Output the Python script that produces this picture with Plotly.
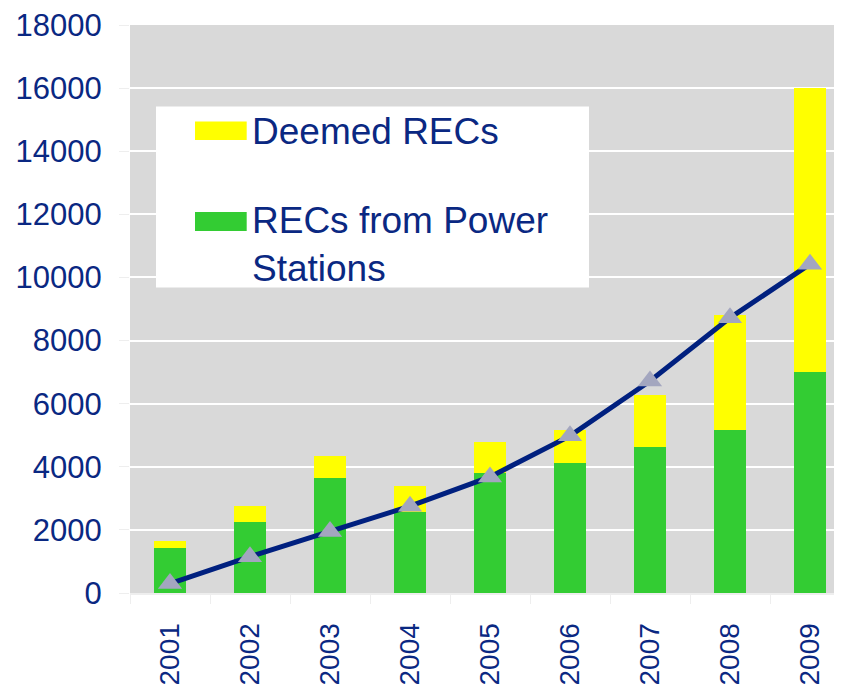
import plotly.graph_objects as go

years = ["2001", "2002", "2003", "2004", "2005", "2006", "2007", "2008", "2009"]
recs_power = [1420, 2240, 3630, 2555, 3795, 4130, 4640, 5160, 7000]
recs_total = [1640, 2750, 4340, 3385, 4800, 5160, 6280, 8810, 16000]
deemed = [t - p for t, p in zip(recs_total, recs_power)]
target = [300, 1150, 1950, 2750, 3680, 4980, 6720, 8720, 10420]
y_ticks = [0, 2000, 4000, 6000, 8000, 10000, 12000, 14000, 16000, 18000]

NAVY = "#0A2882"
FONT = "Arial, Liberation Sans, sans-serif"

fig = go.Figure()
fig.add_trace(go.Bar(x=years, y=recs_power, name="RECs from Power Stations",
                     marker=dict(color="#33CC33", line=dict(width=0)), width=0.4))
fig.add_trace(go.Bar(x=years, y=deemed, name="Deemed RECs",
                     marker=dict(color="#FFFF00", line=dict(width=0)), width=0.4))
fig.add_trace(go.Scatter(x=years, y=target, mode="lines+markers", name="Target",
                         line=dict(color="#00207F", width=5),
                         marker=dict(symbol="triangle-up", size=21, color="#A3A6BF")))

fig.update_layout(
    width=834, height=677,
    margin=dict(l=122, r=0, t=14, b=92),
    barmode="stack",
    showlegend=False,
    plot_bgcolor="#D9D9D9",
    paper_bgcolor="white",
    font=dict(family=FONT, color=NAVY, size=30),
    xaxis=dict(type="category", range=[-0.5, 8.4], tickangle=-90,
               tickson="boundaries", ticks="outside", ticklen=9,
               tickcolor="#EEEEEE", showgrid=False,
               showline=True, linecolor="#EEEEEE", linewidth=2,
               tickfont=dict(size=28, color=NAVY, family=FONT),
               ticklabelstandoff=17, ticklabeloverflow="allow"),
    yaxis=dict(range=[0, 18000], tickvals=y_ticks, tickformat="d", showgrid=True,
               gridcolor="white", gridwidth=1.5, zeroline=False,
               ticks="outside", ticklen=10, tickcolor="#EEEEEE",
               tickfont=dict(size=31, color=NAVY, family=FONT),
               ticklabelstandoff=11, ticklabeloverflow="allow"),
)

# Legend box drawn as shapes + text annotations
fig.add_shape(type="rect", xref="paper", yref="paper",
              x0=0.0365, x1=0.6447, y0=0.538, y1=0.8564,
              fillcolor="white", line=dict(width=0), layer="above")
fig.add_shape(type="rect", xref="paper", yref="paper",
              x0=0.0913, x1=0.1639, y0=0.7974, y1=0.8301,
              fillcolor="#FFFF00", line=dict(width=0), layer="above")
fig.add_shape(type="rect", xref="paper", yref="paper",
              x0=0.0913, x1=0.1639, y0=0.6375, y1=0.6708,
              fillcolor="#33CC33", line=dict(width=0), layer="above")
fig.add_annotation(xref="paper", yref="paper", x=0.168, y=0.8126,
                   xanchor="left", yanchor="middle", showarrow=False,
                   text="Deemed RECs", align="left",
                   font=dict(size=37, color=NAVY, family=FONT))
fig.add_annotation(xref="paper", yref="paper", x=0.168, y=0.613,
                   xanchor="left", yanchor="middle", showarrow=False,
                   text="RECs from Power<br>Stations", align="left",
                   font=dict(size=37, color=NAVY, family=FONT))

fig.write_html("out.html")
